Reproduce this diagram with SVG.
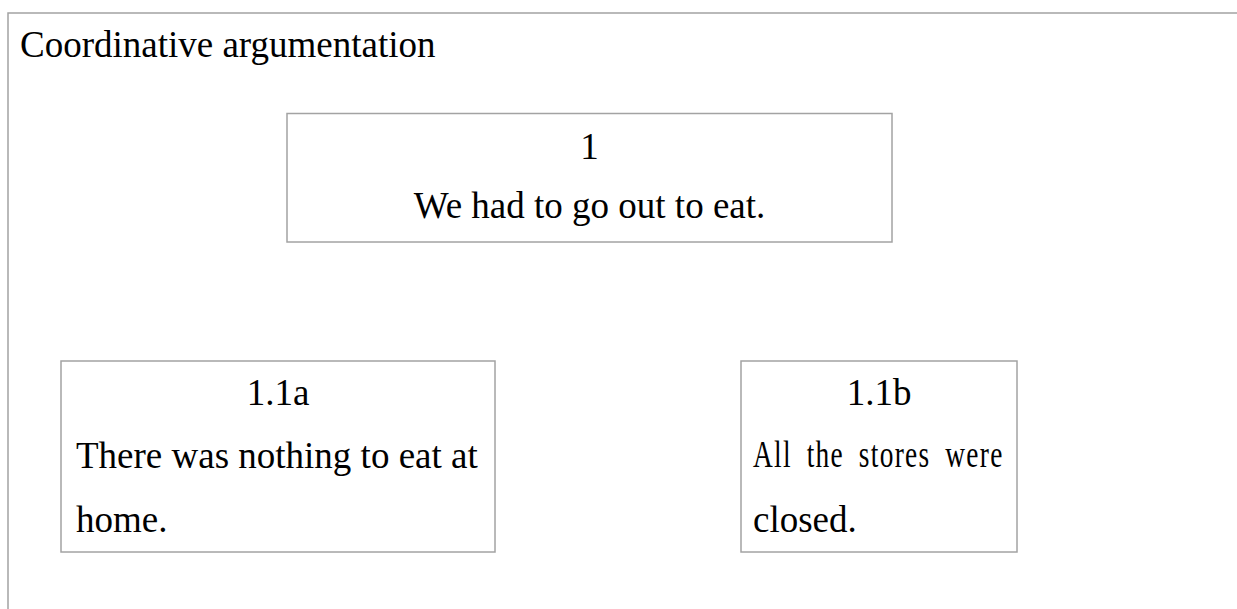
<svg xmlns="http://www.w3.org/2000/svg" width="1237" height="609" viewBox="0 0 1237 609">
<style>
.t{font-family:"Liberation Serif","Times New Roman",serif;font-size:37px;fill:#000}
.c{text-anchor:middle}
.b{fill:#fff;stroke:#a3a3a3;stroke-width:1.5}
.f{stroke:#a3a3a3;stroke-width:1.5;fill:none}
</style>
<rect width="1237" height="609" fill="#fff"/>
<g id="frame">
<path class="f" d="M8,609 V13 H1237"/>
<text class="t" x="20" y="57">Coordinative argumentation</text>
</g>
<g id="connectors"></g>
<g id="node-1">
<rect class="b" x="287" y="113.5" width="605" height="128.5"/>
<text class="t c" x="589.5" y="159">1</text>
<text class="t c" x="589.5" y="218">We had to go out to eat.</text>
</g>
<g id="node-1-1a">
<rect class="b" x="61" y="361" width="434" height="191"/>
<text class="t c" x="278" y="405">1.1a</text>
<text class="t" x="76" y="468">There was nothing to eat at</text>
<text class="t" x="76" y="532">home.</text>
</g>
<g id="node-1-1b">
<rect class="b" x="741" y="361" width="276" height="191"/>
<text class="t c" x="879" y="405">1.1b</text>
<g transform="translate(753,467) scale(0.74,1)">
<text class="t" x="0" y="0" letter-spacing="3" word-spacing="9" textLength="340" lengthAdjust="spacing">All the stores were</text>
</g>
<text class="t" x="753" y="532">closed.</text>
</g>
</svg>
